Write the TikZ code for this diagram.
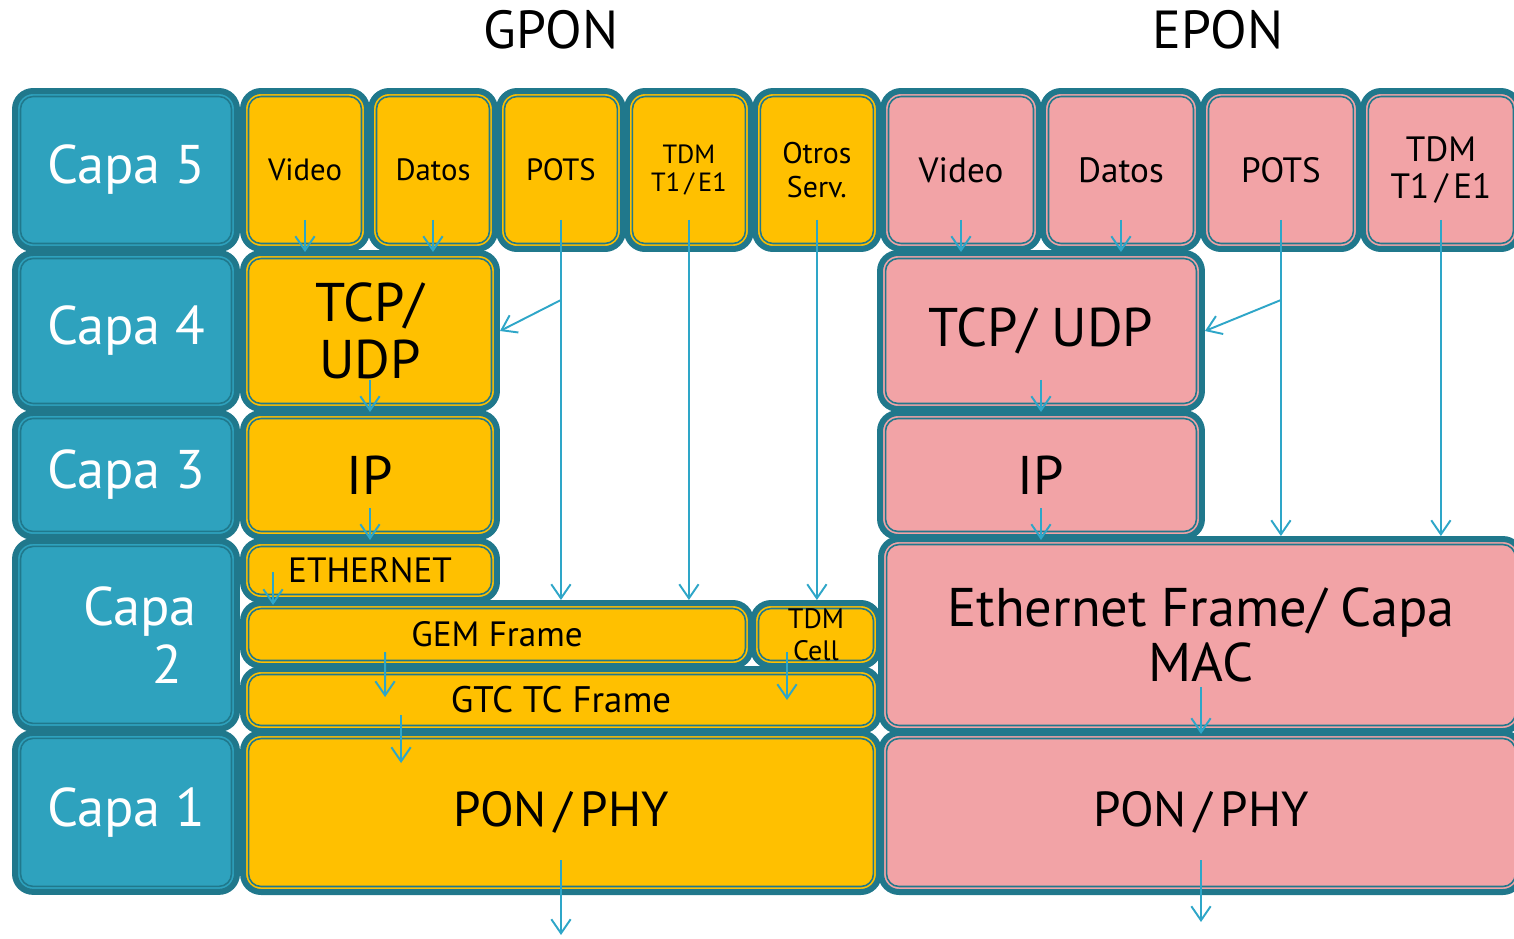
\documentclass[tikz,border=0pt]{standalone}
\usepackage{fontspec}
\setmainfont{PT Sans}
\usetikzlibrary{positioning,chains,calc,arrows.meta}

\definecolor{edge}{RGB}{32,120,140}
\definecolor{capa}{RGB}{46,162,190}
\definecolor{gold}{RGB}{255,192,0}
\definecolor{rose}{RGB}{242,163,166}
\definecolor{flow}{RGB}{46,166,200}

\tikzset{
  layer/.style={draw=edge,line width=0.12cm,rounded corners=0.36cm,inner sep=0pt,align=center,
    path picture={\draw[edge,line width=0.9pt,rounded corners=0.25cm]
      ([xshift=0.11cm,yshift=-0.11cm]path picture bounding box.north west) rectangle
      ([xshift=-0.11cm,yshift=0.11cm]path picture bounding box.south east);}},
  capabox/.style={layer,fill=capa,text=white,minimum width=4.44cm,font=\fontsize{31}{33}\selectfont},
  gbox/.style={layer,fill=gold},
  ebox/.style={layer,fill=rose},
  gtop/.style={gbox,minimum width=2.48cm,minimum height=3.16cm},
  etop/.style={ebox,minimum width=3.12cm,minimum height=3.16cm,font=\fontsize{20}{21.6}\selectfont},
  txtbig/.style={font=\fontsize{31}{32.5}\selectfont},
  txtmid/.style={font=\fontsize{28}{31}\selectfont},
  txtsmall/.style={font=\fontsize{20}{21}\selectfont},
  title/.style={font=\fontsize{30.5}{36}\selectfont},
  flowline/.style={draw=flow,line width=1.1pt,-{Straight Barb[length=8pt,width=11pt]}},
}

\begin{document}
\begin{tikzpicture}[x=0.02cm,y=-0.02cm,node distance=-0.04cm,
    start chain=capa going below,start chain=gp going right,start chain=ep going right]
  \useasboundingbox (0,0) rectangle (1514,938);

  \node[title] (gpon) at (551,30) {GPON};
  \node[title] (epon) at (1218,30) {EPON};

  % capas
  \node[capabox,on chain=capa,minimum height=3.16cm] at (126,170) {Capa 5};
  \foreach \t/\h in {Capa 4/3.12, Capa 3/2.48,
      {\hspace*{0.56cm}Capa\\\hspace*{1.64cm}2}/3.76, Capa 1/3.18} {
    \node[capabox,on chain=capa,minimum height=\h cm] {\t};
  }

  % GPON
  \node[gtop,on chain=gp,font=\fontsize{17.5}{19}\selectfont] at (305,170) {Video};
  \foreach \t/\f/\b in {Datos/17.5/19, POTS/17.5/19, {TDM\\T1\,/\,E1}/15/16.5, {Otros\\Serv.}/17/19} {
    \node[gtop,on chain=gp,font=\fontsize{\f}{\b}\selectfont] {\t};
  }
  \node[gbox,txtbig,minimum width=5.08cm,minimum height=3.12cm] (tcpG) at (370,331) {TCP/\\UDP};
  \node[gbox,txtbig,minimum width=5.08cm,minimum height=2.48cm] (ipG) at (370,475) {IP};
  \node[gbox,txtsmall,minimum width=5.08cm,minimum height=1.18cm] (ethG) at (370,570.5) {ETHERNET};
  \node[gbox,txtsmall,minimum width=10.16cm,minimum height=1.26cm] (gem) at (497,634.5) {GEM Frame};
  \node[gbox,font=\fontsize{16}{18}\selectfont,minimum width=2.52cm,minimum height=1.26cm] (tdmc) at (816,634.5) {TDM\\Cell};
  \node[gbox,font=\fontsize{21}{22}\selectfont,minimum width=12.72cm,minimum height=1.24cm] (gtc) at (561,700) {GTC TC Frame};
  \node[gbox,txtmid,minimum width=12.72cm,minimum height=3.18cm] (ponG) at (561,812.5) {PON\,/\,PHY};

  % EPON
  \node[etop,on chain=ep] at (961,170) {Video};
  \foreach \t in {Datos, POTS, {TDM\\T1\,/\,E1}} {
    \node[etop,on chain=ep] {\t};
  }
  \node[ebox,txtbig,minimum width=6.44cm,minimum height=3.12cm] (tcpE) at (1041,331) {TCP/ UDP};
  \node[ebox,txtbig,minimum width=6.44cm,minimum height=2.48cm] (ipE) at (1041,475) {IP};
  \node[ebox,font=\fontsize{31}{31}\selectfont,minimum width=12.8cm,minimum height=3.84cm] (ethE) at (1201,635) {Ethernet Frame/ Capa\\MAC};
  \node[ebox,txtmid,minimum width=12.8cm,minimum height=3.18cm] (ponE) at (1201,812.5) {PON\,/\,PHY};

  % flujos GPON
  \foreach \n in {1,2} {
    \draw[flowline] ($(gp-\n.south)+(0,-32)$) -- (gp-\n.south);
  }
  \draw[flowline] ($(gp-3.south)+(0,-32)$) -- (gp-3.south |- gem.north);
  \draw[flowline] ($(gp-3.south)+(0,48)$) -- (tcpG.east);
  \draw[flowline] ($(gp-4.south)+(0,-32)$) -- (gp-4.south |- gem.north);
  \draw[flowline] ($(gp-5.south)+(0,-32)$) -- (gp-5.south |- tdmc.north);
  \draw[flowline] ($(tcpG.south)+(0,-32)$) -- (tcpG.south);
  \draw[flowline] ($(ipG.south)+(0,-32)$) -- (ipG.south);
  \draw[flowline] ($(ethG.south west)+(33,-31)$) -- ($(ethG.south west)+(33,2)$);
  \draw[flowline] ($(gem.south west)+(145,-17)$) -- ($(gtc.north west)+(145,31)$);
  \draw[flowline] ($(tdmc.south)+(-29,-17)$) -- ($(tdmc.south)+(-29,31)$);
  \draw[flowline] ($(gtc.south west)+(161,-19)$) -- ($(ponG.north west)+(161,33)$);
  \draw[flowline] ($(ponG.south)+(0,-35)$) -- ($(ponG.south)+(0,40)$);

  % flujos EPON
  \foreach \n in {1,2} {
    \draw[flowline] ($(ep-\n.south)+(0,-32)$) -- (ep-\n.south);
  }
  \draw[flowline] ($(ep-3.south)+(0,-32)$) -- (ep-3.south |- ethE.north);
  \draw[flowline] ($(ep-3.south)+(0,48)$) -- (tcpE.east);
  \draw[flowline] ($(ep-4.south)+(0,-32)$) -- (ep-4.south |- ethE.north);
  \draw[flowline] ($(tcpE.south)+(0,-32)$) -- (tcpE.south);
  \draw[flowline] ($(ipE.south)+(0,-32)$) -- (ipE.south);
  \draw[flowline] ($(ethE.south)+(0,-47)$) -- (ethE.south);
  \draw[flowline] ($(ponE.south)+(0,-35)$) -- ($(ponE.south)+(0,27)$);
\end{tikzpicture}
\end{document}
